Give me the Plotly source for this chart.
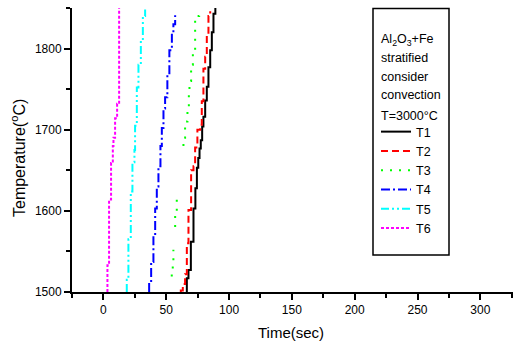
import plotly.graph_objects as go

# ---- data (time in s, temperature in °C); step curves ----
t1_time = [66.4, 67.7, 69.6, 71.7, 73.2, 74.4, 75.5, 76.5, 77.5, 78.6, 79.6, 81.0, 82.3, 83.6, 85.0, 86.3, 87.6, 89.1, 89.1]
t1_temp = [1500, 1517, 1527, 1562, 1603, 1628, 1653, 1665, 1677, 1687, 1704, 1716, 1736, 1753, 1777, 1798, 1820, 1843, 1852]

t2_time = [61.6, 63.2, 65.0, 66.4, 67.7, 69.8, 71.7, 73.0, 74.8, 77.0, 78.3, 79.6, 81.0, 82.3, 83.6, 85.0, 85.0]
t2_temp = [1500, 1502, 1510, 1522, 1560, 1601, 1650, 1655, 1678, 1700, 1706, 1735, 1775, 1790, 1817, 1840, 1846]

t3_time = [54.4, 55.2, 55.7, 55.7, None, 57.1, 58.4, 58.4, None, 63.7, 65.0, 66.9, 68.0, 68.5, 69.8, 71.2, 73.0, 76.2, 76.2]
t3_temp = [1519, 1527, 1538, 1552, None, 1580, 1600, 1616, None, 1680, 1690, 1710, 1730, 1750, 1760, 1780, 1798, 1840, 1846]

t4_time = [36.4, 38.0, 39.8, 41.2, 42.5, 43.8, 45.4, 46.5, 47.8, 49.1, 50.9, 52.5, 54.5, 55.7, 57.1, 57.1]
t4_temp = [1500, 1512, 1537, 1570, 1603, 1630, 1655, 1680, 1702, 1726, 1740, 1768, 1798, 1820, 1830, 1841]

t5_time = [18.6, 19.9, 21.8, 23.1, 24.7, 25.2, 26.6, 27.9, 29.8, 31.4, 33.2, 33.2]
t5_temp = [1500, 1515, 1565, 1624, 1660, 1675, 1705, 1752, 1780, 1810, 1840, 1848]

t6_time = [3.2, 4.5, 6.1, 7.5, 8.0, 9.3, 10.9, 12.5, 12.5]
t6_temp = [1500, 1533, 1614, 1659, 1680, 1690, 1714, 1732, 1851]

series = [
    ("T1", t1_time, t1_temp, "#000000", "solid"),
    ("T2", t2_time, t2_temp, "#FF0000", "7px,4px"),
    ("T3", t3_time, t3_temp, "#00FF00", "2px,7px"),
    ("T4", t4_time, t4_temp, "#0000FF", "9px,3px,2px,3px"),
    ("T5", t5_time, t5_temp, "#00FFFF", "8px,3px,2px,3px,2px,3px"),
    ("T6", t6_time, t6_temp, "#FF00FF", "3px,2px"),
]

x_tickvals = [0, 50, 100, 150, 200, 250, 300]
y_tickvals = [1500, 1600, 1700, 1800]

info_lines = ["Al<sub>2</sub>O<sub>3</sub>+Fe", "stratified", "consider", "convection", "T=3000°C"]

fig = go.Figure()
for name, x, y, color, dash in series:
    fig.add_trace(go.Scatter(
        x=x, y=y, name=name, mode="lines",
        line=dict(color=color, width=2, dash=dash, shape="vh"),
        connectgaps=False,
    ))

W, H = 513, 345
L, R, T, B = 72, 0, 8, 53
pw, ph = W - L - R, H - T - B

def px2paper_x(px):
    return (px - L) / pw

def px2paper_y(py):
    return (H - B - py) / ph

tickfont = dict(family="Liberation Sans, Arial", size=12, color="black")

fig.update_layout(
    width=W, height=H,
    margin=dict(l=L, r=R, t=T, b=B, autoexpand=False),
    paper_bgcolor="white", plot_bgcolor="white",
    font=dict(family="Liberation Sans, Arial", color="black"),
    showlegend=True,
    legend=dict(
        x=px2paper_x(376), y=px2paper_y(117), xanchor="left", yanchor="top",
        bgcolor="rgba(0,0,0,0)", borderwidth=0,
        font=dict(size=12.5, family="Liberation Sans, Arial", color="black"),
        itemwidth=30, tracegroupgap=0,
    ),
    xaxis=dict(
        range=[-25, 326], tickvals=x_tickvals, ticks="outside", ticklen=6, tickwidth=1.5,
        tickcolor="black", showline=True, linecolor="black", linewidth=2,
        showgrid=False, zeroline=False, tickfont=tickfont,
        minor=dict(dtick=25, ticks="outside", ticklen=4, tickwidth=1.5, tickcolor="black", showgrid=False),
    ),
    yaxis=dict(
        range=[1500, 1850], tickvals=y_tickvals, ticks="outside", ticklen=6, tickwidth=1.5,
        tickcolor="black", showline=True, linecolor="black", linewidth=2,
        showgrid=False, zeroline=False, tickfont=tickfont,
        minor=dict(dtick=50, ticks="outside", ticklen=4, tickwidth=1.5, tickcolor="black", showgrid=False),
    ),
)

# legend box
fig.add_shape(type="rect", xref="paper", yref="paper",
              x0=px2paper_x(373), x1=px2paper_x(449), y0=px2paper_y(255), y1=px2paper_y(8.5),
              line=dict(color="black", width=1.5), fillcolor="rgba(0,0,0,0)")

info_y = [40, 58, 77, 95, 116]
for txt, yy in zip(info_lines, info_y):
    fig.add_annotation(text=txt, xref="paper", yref="paper", x=px2paper_x(379), y=px2paper_y(yy),
                       xanchor="left", yanchor="middle", showarrow=False,
                       font=dict(size=12.5, family="Liberation Sans, Arial", color="black"))

# axis titles
fig.add_annotation(text="Time(sec)", xref="paper", yref="paper", x=px2paper_x(291), y=px2paper_y(332),
                   xanchor="center", yanchor="middle", showarrow=False,
                   font=dict(size=15, family="Liberation Sans, Arial", color="black"))
fig.add_annotation(text="Temperature(<sup>o</sup>C)", xref="paper", yref="paper", x=px2paper_x(18), y=px2paper_y(158),
                   xanchor="center", yanchor="middle", showarrow=False, textangle=-90,
                   font=dict(size=16, family="Liberation Sans, Arial", color="black"))

fig.write_html("out.html", config={"displayModeBar": False},
               post_script="document.body.style.margin='0';document.body.style.padding='0';")
